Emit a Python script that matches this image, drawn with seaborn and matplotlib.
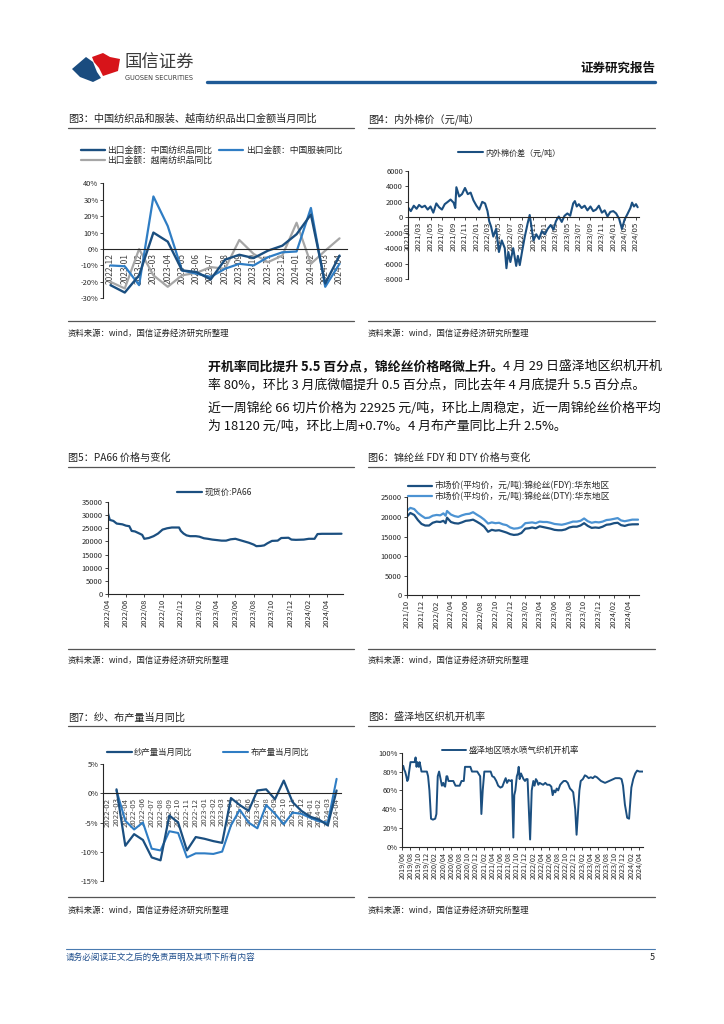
import numpy as np
import pandas as pd
import matplotlib
matplotlib.use('Agg')
import matplotlib.pyplot as plt
import matplotlib.dates as mdates
from matplotlib.ticker import FuncFormatter
from matplotlib.patches import Polygon
from matplotlib.lines import Line2D
import seaborn as sns

# ---- 图3 出口金额当月同比 (%)
months3 = ['2022-12', '2023-01', '2023-02', '2023-03', '2023-04', '2023-05', '2023-06', '2023-07', '2023-08',
           '2023-09', '2023-10', '2023-11', '2023-12', '2024-01', '2024-02', '2024-03', '2024-04']
cn_textile = [-22, -26.5, -16, 10, 4.5, -13, -14, -18.5, -6.5, -3.5, -5.5, -1, 2, 9, 21, -21, -4]
cn_apparel = [-10, -10.5, -22, 32, 14, -13, -15, -17, -12, -9, -10, -5, -2, -1.5, 25, -23, -9]
vn_textile = [-20, -24, 0, -16, -23, -16, -14.5, -11, -12, 5.5, -3, -8, -4, 16, -9, -1, 6.5]

# ---- 图4 内外棉价差 (元/吨)
dates4 = ['2021-01-04', '2021-01-16', '2021-02-01', '2021-02-16', '2021-03-01', '2021-03-16', '2021-04-01',
          '2021-04-16', '2021-05-01', '2021-05-16', '2021-06-01', '2021-06-16', '2021-07-01', '2021-07-16',
          '2021-08-01', '2021-08-16', '2021-09-01', '2021-09-10', '2021-09-16', '2021-10-01', '2021-10-16',
          '2021-11-01', '2021-11-16', '2021-12-01', '2021-12-16', '2022-01-01', '2022-01-16', '2022-02-01',
          '2022-02-16', '2022-03-01', '2022-03-10', '2022-03-20', '2022-04-01', '2022-04-16', '2022-05-01',
          '2022-05-16', '2022-06-01', '2022-06-10', '2022-06-20', '2022-07-01', '2022-07-16', '2022-08-01',
          '2022-08-10', '2022-08-20', '2022-09-01', '2022-09-16', '2022-10-01', '2022-10-12', '2022-10-20',
          '2022-11-01', '2022-11-16', '2022-12-01', '2022-12-16', '2023-01-01', '2023-01-16', '2023-02-01',
          '2023-02-16', '2023-03-01', '2023-03-16', '2023-04-01', '2023-04-16', '2023-05-01', '2023-05-16',
          '2023-06-01', '2023-06-10', '2023-06-20', '2023-07-01', '2023-07-16', '2023-08-01', '2023-08-16',
          '2023-09-01', '2023-09-16', '2023-10-01', '2023-10-16', '2023-11-01', '2023-11-16', '2023-12-01',
          '2023-12-16', '2024-01-01', '2024-01-16', '2024-02-01', '2024-02-16', '2024-03-01', '2024-03-16',
          '2024-04-01', '2024-04-10', '2024-04-20', '2024-05-01', '2024-05-10']
spread4 = [1200, 800, 1500, 1100, 1600, 1300, 1500, 1000, 1400, 600, 1800, 1300, 1000, 1700,
           2000, 2300, 1900, 1200, 3900, 2700, 3000, 3800, 3000, 3200, 2200, 1500, 1000, 2000,
           1800, 800, -500, -1200, -2500, -1500, -4500, -3000, -4000, -6600, -4500, -5800, -4000, -6300,
           -5000, -6200, -4500, -2500, -800, 300, -1000, -3000, -2200, -2800, -1800, -2200, -1500, -1000,
           -1600, -500, 100, -600, 200, 500, 200, 1800, 2100, 1400, 1700, 1200, 1500, 900,
           1400, 800, 1000, 1500, 600, 900, 100, 700, 800, 500, -200, -1500, -300, 400,
           1200, 1900, 1400, 1700, 1300]

# ---- 图5 PA66 现货价 (元/吨)
dates5 = ['2022-04-01', '2022-04-08', '2022-04-20', '2022-05-01', '2022-05-20', '2022-06-01', '2022-06-12',
          '2022-06-20', '2022-07-01', '2022-07-16', '2022-07-25', '2022-08-01', '2022-08-16', '2022-09-01',
          '2022-09-16', '2022-10-01', '2022-10-16', '2022-11-01', '2022-11-25', '2022-12-01', '2022-12-10',
          '2022-12-20', '2023-01-01', '2023-01-20', '2023-02-01', '2023-02-16', '2023-03-01', '2023-03-16',
          '2023-04-01', '2023-04-16', '2023-05-01', '2023-05-16', '2023-06-01', '2023-06-16', '2023-07-01',
          '2023-07-16', '2023-08-01', '2023-08-10', '2023-08-25', '2023-09-05', '2023-09-16', '2023-10-01',
          '2023-10-20', '2023-11-01', '2023-11-25', '2023-12-05', '2023-12-20', '2024-01-15', '2024-02-01',
          '2024-02-20', '2024-03-01', '2024-03-16', '2024-04-16', '2024-05-20']
pa66 = [31000, 28200, 27800, 26800, 26500, 26000, 25800, 24000, 23800, 23000, 22500, 21000, 21300, 22000,
        23000, 24500, 25000, 25300, 25300, 24000, 23000, 22300, 22000, 22000, 21800, 21200, 21000, 20700,
        20500, 20300, 20300, 20800, 21000, 20500, 20000, 19500, 18800, 18200, 18300, 18500, 19300, 20200,
        20300, 21300, 21400, 20700, 20600, 20700, 21000, 21000, 22800, 22900, 22900, 22925]

# ---- 图6 锦纶丝 FDY / DTY 市场价 (元/吨)
dates6 = ['2021-10-01', '2021-10-16', '2021-11-01', '2021-11-16', '2021-12-01', '2021-12-16', '2022-01-01',
          '2022-01-16', '2022-02-01', '2022-02-16', '2022-03-01', '2022-03-10', '2022-03-16', '2022-04-01',
          '2022-04-16', '2022-05-01', '2022-05-16', '2022-06-01', '2022-06-16', '2022-07-01', '2022-07-16',
          '2022-08-01', '2022-08-16', '2022-09-01', '2022-09-16', '2022-10-01', '2022-10-16', '2022-11-01',
          '2022-11-16', '2022-12-01', '2022-12-16', '2023-01-01', '2023-01-16', '2023-02-01', '2023-02-16',
          '2023-03-01', '2023-03-16', '2023-04-01', '2023-04-16', '2023-05-01', '2023-05-16', '2023-06-01',
          '2023-06-16', '2023-07-01', '2023-07-16', '2023-08-01', '2023-08-16', '2023-09-01', '2023-09-16',
          '2023-10-01', '2023-10-16', '2023-11-01', '2023-11-16', '2023-12-01', '2023-12-16', '2024-01-01',
          '2024-01-16', '2024-02-01', '2024-02-16', '2024-03-01', '2024-03-16', '2024-04-01', '2024-04-16',
          '2024-05-10']
fdy = [20000, 21000, 20500, 19200, 18200, 17800, 17800, 18500, 18800, 18700, 19000, 18400, 19800, 18700,
       18400, 18300, 18600, 19000, 19100, 19300, 18800, 18200, 17500, 16200, 16700, 16500, 16600, 16300,
       16000, 15600, 15400, 15500, 15900, 17000, 17100, 17300, 17100, 17600, 17400, 17200, 17000, 16700,
       16600, 16600, 16800, 17300, 17500, 17500, 17800, 18400, 17700, 17200, 17300, 17200, 17500, 18000,
       18100, 18400, 18500, 17900, 17700, 18000, 18100, 18120]
dty = [21500, 22300, 22000, 21000, 20300, 19700, 19800, 20300, 20500, 20400, 20900, 20300, 21500, 20600,
       20200, 20000, 20400, 20700, 20800, 21200, 20600, 20000, 19300, 18300, 18600, 18400, 18500, 18100,
       17900, 17300, 17000, 17100, 17400, 18400, 18500, 18600, 18400, 18800, 18700, 18700, 18500, 18200,
       18100, 18000, 18200, 18500, 18800, 18800, 19000, 19600, 18900, 18500, 18700, 18600, 18800, 19200,
       19300, 19500, 19700, 19100, 18900, 19100, 19300, 19300]

# ---- 图7 纱、布产量当月同比 (%)
months7 = ['2022-02', '2022-03', '2022-04', '2022-05', '2022-06', '2022-07', '2022-08', '2022-09', '2022-10',
           '2022-11', '2022-12', '2023-01', '2023-02', '2023-03', '2023-04', '2023-05', '2023-06', '2023-07',
           '2023-08', '2023-09', '2023-10', '2023-11', '2023-12', '2024-01', '2024-02', '2024-03', '2024-04']
yarn = [np.nan, 0.7, -9, -7, -8, -11, -11.5, -3.8, -5, -9.8, -7.5, -7.8, -8.2, -8.5, -0.8, -2, -3, 0.5,
        0.7, -1, 2.2, -1.5, -3, -4, -4.5, -5.5, 0.5]
cloth = [np.nan, 0.5, -4.7, -6.2, -5, -9.5, -9.8, -6.5, -6.8, -11, -10.3, -10.3, -10.4, -10, -5.5, -2.8,
         -5, -6, -2, -3.5, -5.3, -3.3, -3.5, -4.2, -4.8, -5, 2.5]

# ---- 图8 盛泽地区喷水喷气织机开机率 (%)
dates8 = ['2019-06-01', '2019-06-08', '2019-06-15', '2019-06-22', '2019-07-01', '2019-07-08', '2019-07-15',
          '2019-07-22', '2019-08-01', '2019-08-15', '2019-09-01', '2019-09-08', '2019-09-15', '2019-09-22',
          '2019-10-01', '2019-10-08', '2019-10-15', '2019-10-22', '2019-11-01', '2019-11-15', '2019-12-01',
          '2019-12-10', '2019-12-20', '2020-01-01', '2020-01-15', '2020-02-01', '2020-02-10', '2020-02-20',
          '2020-03-01', '2020-03-08', '2020-03-15', '2020-03-22', '2020-04-01', '2020-04-08', '2020-04-15',
          '2020-04-25', '2020-05-01', '2020-05-10', '2020-06-01', '2020-06-15', '2020-07-01', '2020-07-15',
          '2020-08-01', '2020-08-15', '2020-09-01', '2020-09-10', '2020-10-01', '2020-10-20', '2020-11-01',
          '2020-11-20', '2020-12-10', '2021-01-01', '2021-01-10', '2021-01-20', '2021-02-01', '2021-02-15',
          '2021-03-01', '2021-03-20', '2021-04-01', '2021-04-15', '2021-05-01', '2021-05-15', '2021-06-01',
          '2021-06-15', '2021-07-01', '2021-07-10', '2021-07-20', '2021-08-01', '2021-08-15', '2021-08-25',
          '2021-09-05', '2021-09-12', '2021-09-20', '2021-10-01', '2021-10-08', '2021-10-15', '2021-10-22',
          '2021-11-01', '2021-11-10', '2021-11-20', '2021-12-01', '2021-12-10', '2021-12-20', '2022-01-08',
          '2022-01-20', '2022-02-01', '2022-02-10', '2022-02-20', '2022-03-01', '2022-03-10', '2022-03-20',
          '2022-04-01', '2022-04-15', '2022-05-01', '2022-05-15', '2022-06-01', '2022-06-15', '2022-06-25',
          '2022-07-05', '2022-07-15', '2022-07-25', '2022-08-05', '2022-08-20', '2022-09-01', '2022-09-15',
          '2022-10-01', '2022-10-15', '2022-11-01', '2022-11-15', '2022-11-25', '2022-12-10', '2022-12-20',
          '2023-01-01', '2023-01-10', '2023-01-20', '2023-02-05', '2023-02-20', '2023-03-05', '2023-03-20',
          '2023-04-05', '2023-04-20', '2023-05-05', '2023-05-20', '2023-06-05', '2023-06-20', '2023-07-05',
          '2023-07-20', '2023-08-05', '2023-08-20', '2023-09-05', '2023-09-20', '2023-10-05', '2023-10-20',
          '2023-11-05', '2023-11-20', '2023-12-01', '2023-12-15', '2024-01-01', '2024-01-15', '2024-02-01',
          '2024-02-15', '2024-03-01', '2024-03-15', '2024-04-01', '2024-04-29']
rate8 = [85, 86, 82, 80, 75, 70, 72, 80, 90, 90, 90, 95, 85, 90,
         85, 90, 85, 80, 80, 80, 80, 75, 60, 30, 29, 30, 35, 75,
         80, 75, 70, 65, 68, 65, 64, 75, 75, 70, 70, 70, 65, 65,
         65, 70, 70, 85, 85, 85, 80, 80, 80, 75, 35, 60, 80, 80,
         80, 80, 75, 74, 70, 65, 63, 64, 70, 73, 68, 71, 70, 71,
         10, 55, 60, 75, 78, 85, 72, 78, 75, 72, 70, 72, 72, 8,
         60, 70, 65, 72, 70, 66, 68, 67, 66, 68, 66, 66, 64, 55,
         60, 58, 62, 60, 66, 68, 70, 70, 68, 62, 60, 58, 40, 13,
         40, 60, 70, 72, 76, 75, 73, 74, 73, 75, 74, 72, 70, 69,
         68, 69, 70, 71, 72, 73, 73, 73, 72, 65, 45, 31, 30, 63,
         72, 78, 81, 80, 80]

NAVY = '#1B4F80'
BLUE = '#2F7DC4'
LBLUE = '#4C93D3'
GRAY = '#A6A6A6'
INK = '#262626'

sns.set_style('white')
plt.rcParams['font.family'] = ['Noto Sans CJK SC', 'DejaVu Sans']
plt.rcParams['axes.unicode_minus'] = False

W, H = 724, 1024
fig = plt.figure(figsize=(W / 100, H / 100), dpi=100)


def rect(x0, y0, x1, y1):
    return [x0 / W, 1 - y1 / H, (x1 - x0) / W, (y1 - y0) / H]


def hline(x0, x1, y, color, lw):
    fig.add_artist(Line2D([x0 / W, x1 / W], [1 - y / H, 1 - y / H], color=color, lw=lw))


def txt(x, y, s, **kw):
    kw.setdefault('va', 'center')
    return fig.text(x / W, 1 - y / H, s, **kw)


def style_ax(ax, xfs=5.4, yfs=5.4):
    for s in ['top', 'right']:
        ax.spines[s].set_visible(False)
    for s in ['left', 'bottom']:
        ax.spines[s].set_color(INK)
        ax.spines[s].set_linewidth(0.8)
    ax.tick_params(axis='y', labelsize=yfs, length=2, width=0.6, colors=INK, pad=1.5, left=True)
    ax.tick_params(axis='x', labelsize=xfs, length=2, width=0.6, colors=INK, pad=1.5, bottom=True)
    ax.set_xlabel('')
    ax.set_ylabel('')
    ax.grid(False)
    ax.patch.set_alpha(0)


def put_legend(ax, order, x, y, fs=6, ncol=1, colsp=1.0, hl=2.9, lsp=0.2):
    h, l = ax.get_legend_handles_labels()
    ax.legend([h[i] for i in order], [l[i] for i in order], loc='center left',
              bbox_to_anchor=(x / W, 1 - y / H), bbox_transform=fig.transFigure, frameon=False,
              fontsize=fs, ncol=ncol, columnspacing=colsp, handlelength=hl, handletextpad=0.3,
              labelspacing=lsp, borderpad=0, borderaxespad=0)


def date_axis(ax, months):
    ax.xaxis.set_major_locator(mdates.MonthLocator(bymonth=months))
    ax.xaxis.set_major_formatter(mdates.DateFormatter('%Y/%m'))
    for t in ax.get_xticklabels():
        t.set_rotation(90)


pct = FuncFormatter(lambda v, p: f'{v:.0f}%')
num = FuncFormatter(lambda v, p: f'{v:.0f}')

# ---------------- header ----------------
fig.add_artist(Polygon([(72 / W, 1 - 69 / H), (86 / W, 1 - 57 / H), (93 / W, 1 - 62 / H), (97 / W, 1 - 72 / H),
                        (101 / W, 1 - 78 / H), (93 / W, 1 - 82 / H), (80 / W, 1 - 77 / H)],
                       closed=True, transform=fig.transFigure, color='#1A4C7F', lw=0))
fig.add_artist(Polygon([(92 / W, 1 - 57 / H), (103 / W, 1 - 53 / H), (110 / W, 1 - 57 / H), (120 / W, 1 - 59 / H),
                        (118 / W, 1 - 71 / H), (103 / W, 1 - 76 / H), (99 / W, 1 - 68 / H), (94 / W, 1 - 62 / H)],
                       closed=True, transform=fig.transFigure, color='#D7141A', lw=0))
txt(125, 63, '国信证券', fontsize=12.5, color='#3A3A3A')
txt(125, 77.5, 'GUOSEN SECURITIES', fontsize=4.7, color='#3A3A3A', family=['DejaVu Sans'])
txt(655, 68.5, '证券研究报告', fontsize=9, fontweight='bold', color='#111111', ha='right')
hline(207, 655, 82, '#1F5A96', 2.4)

# ---------------- titles / source lines ----------------
title_y = [(119, 127.7), (458, 466.7), (717.3, 726)]
titles = [('图3：中国纺织品和服装、越南纺织品出口金额当月同比', '图4：内外棉价（元/吨）'),
          ('图5：PA66 价格与变化', '图6：锦纶丝 FDY 和 DTY 价格与变化'),
          ('图7：纱、布产量当月同比', '图8：盛泽地区织机开机率')]
for (ty, uy), (tl, tr) in zip(title_y, titles):
    txt(68, ty, tl, fontsize=7.3, color='#222222')
    txt(368, ty, tr, fontsize=7.3, color='#222222')
    hline(68, 354, uy, '#555555', 0.9)
    hline(368, 655, uy, '#555555', 0.9)

src = '资料来源：wind，国信证券经济研究所整理'
for ly, sy in [(321, 333), (649.3, 660.5), (896.5, 910)]:
    hline(68, 354, ly, '#555555', 0.9)
    hline(368, 655, ly, '#555555', 0.9)
    txt(68, sy, src, fontsize=6, color='#222222')
    txt(368, sy, src, fontsize=6, color='#222222')

# ---------------- paragraph ----------------
PFS = 9.3
b = txt(207.5, 366.7, '开机率同比提升 5.5 百分点，锦纶丝价格略微上升。', fontsize=PFS, fontweight='bold', color='#111111')
r = fig.canvas.get_renderer()
bb = b.get_window_extent(renderer=r)
fig.text(bb.x1 / fig.bbox.width, 1 - 366.7 / H, '4 月 29 日盛泽地区织机开机', fontsize=PFS, va='center',
         color='#111111')
txt(207.5, 384.7, '率 80%，环比 3 月底微幅提升 0.5 百分点，同比去年 4 月底提升 5.5 百分点。', fontsize=PFS, color='#111111')
txt(207.5, 408.5, '近一周锦纶 66 切片价格为 22925 元/吨，环比上周稳定，近一周锦纶丝价格平均', fontsize=PFS, color='#111111')
txt(207.5, 426.5, '为 18120 元/吨，环比上周+0.7%。4 月布产量同比上升 2.5%。', fontsize=PFS, color='#111111')

# ---------------- 图3 ----------------
ax3 = fig.add_axes(rect(103.3, 183.3, 346.7, 298.3))
df3 = pd.DataFrame({'pos': np.arange(len(months3)), 'cn_textile': cn_textile,
                    'cn_apparel': cn_apparel, 'vn_textile': vn_textile})
sns.lineplot(data=df3, x='pos', y='vn_textile', ax=ax3, color=GRAY, lw=1.6, label='出口金额：越南纺织品同比')
sns.lineplot(data=df3, x='pos', y='cn_apparel', ax=ax3, color=BLUE, lw=1.6, label='出口金额：中国服装同比')
sns.lineplot(data=df3, x='pos', y='cn_textile', ax=ax3, color=NAVY, lw=1.7, label='出口金额：中国纺织品同比')
style_ax(ax3, xfs=6.1)
ax3.set_xlim(-0.5, len(months3) - 0.5)
ax3.set_ylim(-30, 40)
ax3.set_yticks(range(-30, 41, 10))
ax3.yaxis.set_major_formatter(pct)
ax3.spines['bottom'].set_position(('data', 0))
ax3.set_xticks(df3['pos'])
ax3.set_xticklabels(months3, rotation=90)
ax3.set_xticks(np.arange(-0.5, len(months3), 1), minor=True)
ax3.tick_params(axis='x', which='major', length=0, pad=3, labelcolor='#444444')
ax3.tick_params(axis='x', which='minor', length=2, width=0.6, color=INK)
put_legend(ax3, [2, 0, 1], 80.7, 155.3, fs=6.3, ncol=2, colsp=0.8, hl=2.75, lsp=0.15)

# ---------------- 图4 ----------------
ax4 = fig.add_axes(rect(408, 171, 639, 279))
df4 = pd.DataFrame({'date': pd.to_datetime(dates4), 'spread': spread4})
sns.lineplot(data=df4, x='date', y='spread', ax=ax4, color=NAVY, lw=1.5, label='内外棉价差（元/吨）')
style_ax(ax4, xfs=5.6)
ax4.set_ylim(-8000, 6000)
ax4.set_yticks(range(-8000, 6001, 2000))
ax4.yaxis.set_major_formatter(num)
ax4.set_xlim(pd.Timestamp('2021-01-01'), pd.Timestamp('2024-05-17'))
ax4.spines['bottom'].set_position(('data', 0))
date_axis(ax4, [1, 3, 5, 7, 9, 11])
put_legend(ax4, [0], 458, 152.7, fs=5.8, hl=3.1)

# ---------------- 图5 ----------------
ax5 = fig.add_axes(rect(107.7, 502, 342.7, 594))
df5 = pd.DataFrame({'date': pd.to_datetime(dates5), 'price': pa66})
sns.lineplot(data=df5, x='date', y='price', ax=ax5, color=NAVY, lw=1.6, label='现货价:PA66')
style_ax(ax5)
ax5.set_ylim(0, 35000)
ax5.set_yticks(range(0, 35001, 5000))
ax5.yaxis.set_major_formatter(num)
ax5.set_xlim(pd.Timestamp('2022-04-01'), pd.Timestamp('2024-05-24'))
date_axis(ax5, [2, 4, 6, 8, 10, 12])
put_legend(ax5, [0], 176.7, 492.3, fs=6, hl=3.0)

# ---------------- 图6 ----------------
ax6 = fig.add_axes(rect(406.7, 497.3, 639.3, 595.3))
df6 = pd.DataFrame({'date': pd.to_datetime(dates6), 'fdy': fdy, 'dty': dty})
sns.lineplot(data=df6, x='date', y='dty', ax=ax6, color=LBLUE, lw=1.6,
             label='市场价(平均价，元/吨):锦纶丝(DTY):华东地区')
sns.lineplot(data=df6, x='date', y='fdy', ax=ax6, color=NAVY, lw=1.6,
             label='市场价(平均价，元/吨):锦纶丝(FDY):华东地区')
style_ax(ax6)
ax6.set_ylim(0, 25000)
ax6.set_yticks(range(0, 25001, 5000))
ax6.yaxis.set_major_formatter(num)
ax6.set_xlim(pd.Timestamp('2021-10-01'), pd.Timestamp('2024-05-15'))
date_axis(ax6, [2, 4, 6, 8, 10, 12])
put_legend(ax6, [1, 0], 408, 491.2, fs=6.3, hl=2.7, lsp=0.12)

# ---------------- 图7 ----------------
ax7 = fig.add_axes(rect(103.3, 764.3, 341, 880.7))
df7 = pd.DataFrame({'pos': np.arange(len(months7)), 'yarn': yarn, 'cloth': cloth})
sns.lineplot(data=df7, x='pos', y='cloth', ax=ax7, color=BLUE, lw=1.5, label='布产量当月同比')
sns.lineplot(data=df7, x='pos', y='yarn', ax=ax7, color=NAVY, lw=1.6, label='纱产量当月同比')
style_ax(ax7, xfs=5.6)
ax7.set_xlim(-0.5, len(months7) - 0.5)
ax7.set_ylim(-15, 5)
ax7.set_yticks(range(-15, 6, 5))
ax7.yaxis.set_major_formatter(pct)
ax7.spines['bottom'].set_position(('data', 0))
ax7.set_xticks(df7['pos'])
ax7.set_xticklabels(months7, rotation=90)
ax7.set_xticks(np.arange(-0.5, len(months7), 1), minor=True)
ax7.tick_params(axis='x', which='major', length=0, pad=3, labelcolor='#444444')
ax7.tick_params(axis='x', which='minor', length=2, width=0.6, color=INK)
put_legend(ax7, [1, 0], 106.7, 752.3, fs=6, ncol=2, colsp=3.6, hl=3.0)

# ---------------- 图8 ----------------
ax8 = fig.add_axes(rect(402.3, 752.7, 643.3, 847))
df8 = pd.DataFrame({'date': pd.to_datetime(dates8), 'rate': rate8})
sns.lineplot(data=df8, x='date', y='rate', ax=ax8, color=NAVY, lw=1.4, label='盛泽地区喷水喷气织机开机率')
style_ax(ax8, xfs=5.2)
ax8.set_ylim(0, 100)
ax8.set_yticks(range(0, 101, 20))
ax8.yaxis.set_major_formatter(pct)
ax8.set_xlim(pd.Timestamp('2019-06-01'), pd.Timestamp('2024-04-30'))
date_axis(ax8, [2, 4, 6, 8, 10, 12])
put_legend(ax8, [0], 441.7, 750.7, fs=6.1, hl=2.9)

# ---------------- footer ----------------
hline(66, 655, 948.5, '#4A7BB0', 0.8)
txt(66, 957.5, '请务必阅读正文之后的免责声明及其项下所有内容', fontsize=6.2, color='#1F4E8C')
txt(655, 957.5, '5', fontsize=6.5, color='#222222', ha='right')

fig.savefig('out.png', dpi=100)
